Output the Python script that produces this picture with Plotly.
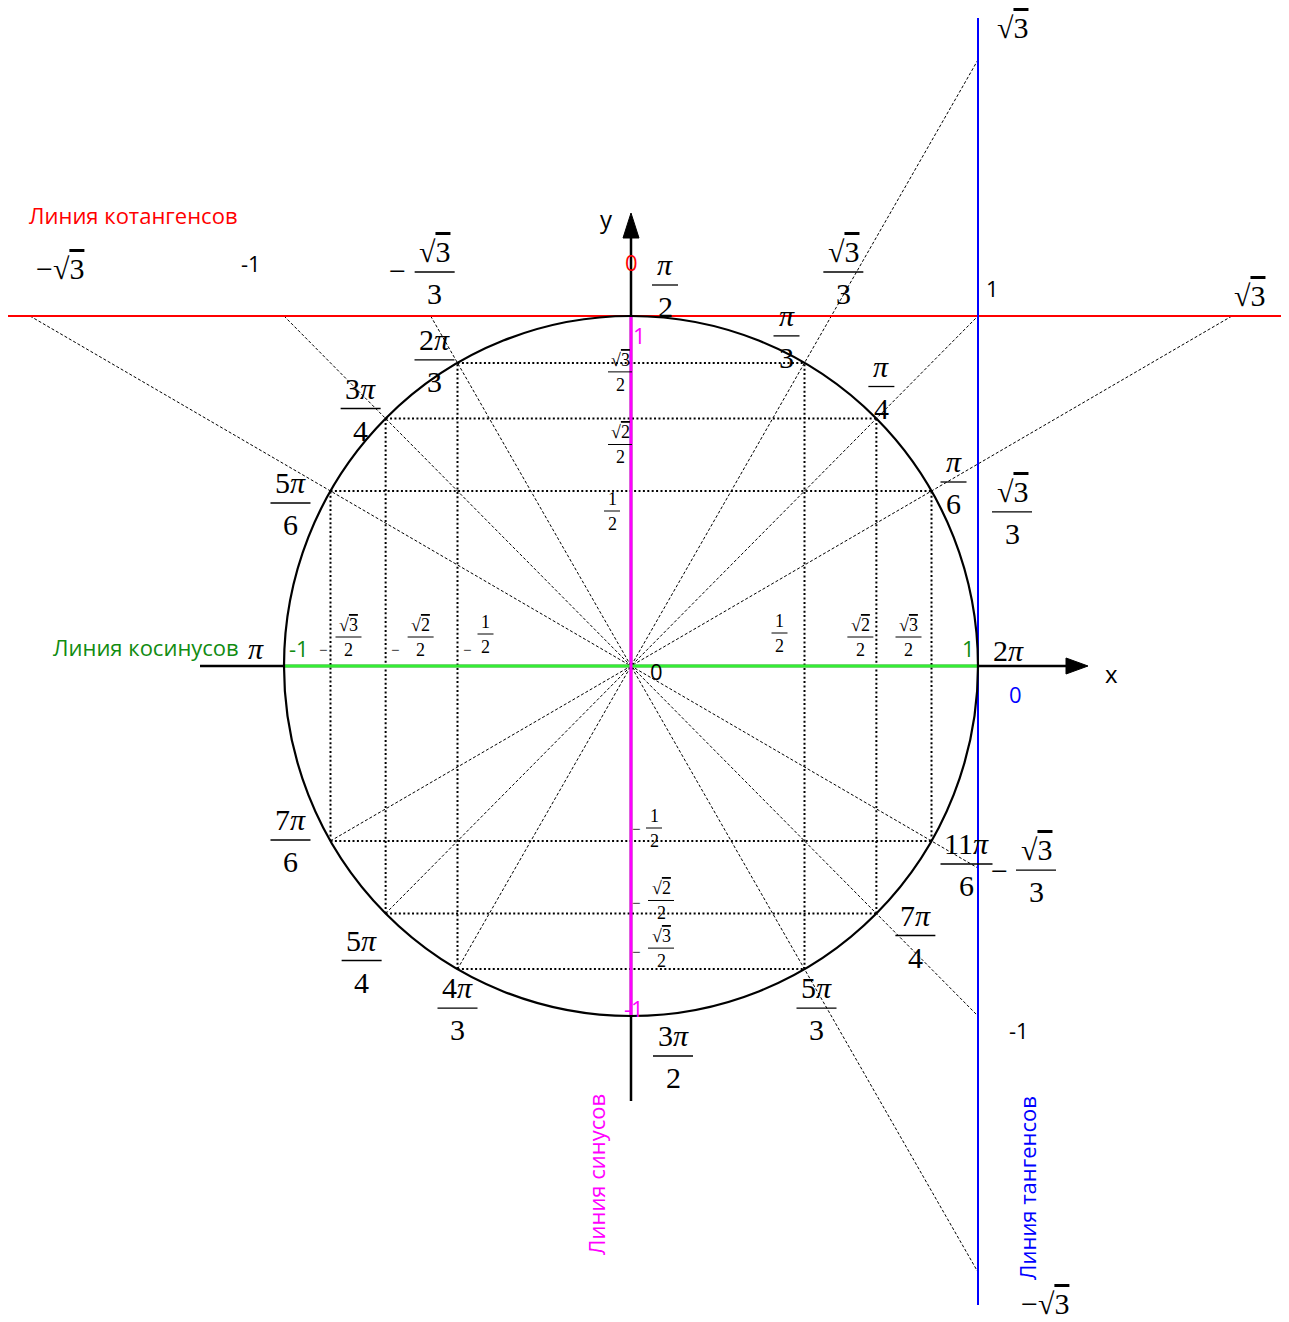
import numpy as np
import plotly.graph_objects as go

# ---------------- data ----------------
angles_deg = [30, 45, 60, 90, 120, 135, 150, 180, 210, 225, 240, 270, 300, 315, 330, 360]
angle_num = ["π", "π", "π", "π", "2π", "3π", "5π", "π", "7π", "5π", "4π", "3π", "5π", "7π", "11π", "2π"]
angle_den = ["6", "4", "3", "2", "3", "4", "6", "", "6", "4", "3", "2", "3", "4", "6", ""]
grid_vals = [0.5, np.sqrt(2) / 2, np.sqrt(3) / 2]          # sin/cos special values
tan_vals = [np.sqrt(3), 1.0, np.sqrt(3) / 3, 0.0, -np.sqrt(3) / 3, -1.0, -np.sqrt(3)]
cot_vals = [-np.sqrt(3), -1.0, -np.sqrt(3) / 3, 0.0, np.sqrt(3) / 3, 1.0, np.sqrt(3)]
diag_angles = [30, 45, 60, 120, 135, 150]

# ---------------- layout helpers ----------------
W, H = 1289, 1322
CXP, CYP = 631.0, 666.0      # pixel of origin
SX, SY = 347.0, 350.0        # pixels per unit
XR = [-CXP / SX, (W - CXP) / SX]
YR = [-(H - CYP) / SY, CYP / SY]

def pix(xp, yp):
    return (xp - CXP) / SX, (CYP - yp) / SY

SERIF = "Liberation Serif, Times New Roman, serif"
SANS = "Open Sans, Liberation Sans, sans-serif"
SQ3 = '√<span style="text-decoration:overline">3</span>'
SQ2 = '√<span style="text-decoration:overline">2</span>'
PI = "<i>π</i>"
BIG = 30
SMALL = 18
LBL = 22

ann = []
shapes = []

def txt(x, y, s, size, color="black", family=SERIF, dx=0, dy=0, angle=0):
    ann.append(dict(x=x, y=y, xref="x", yref="y", text=s, showarrow=False,
                    font=dict(size=size, color=color, family=family),
                    xanchor="center", yanchor="middle", xshift=dx, yshift=-dy,
                    textangle=angle))

def frac(x, y, num, den, size, dx=0, dy=0, w=30, color="black", lw=1.3):
    txt(x, y, num, size, color=color, dx=dx, dy=dy - 0.68 * size)
    txt(x, y, den, size, color=color, dx=dx, dy=dy + 0.72 * size)
    shapes.append(dict(type="line", xref="x", yref="y", xsizemode="pixel", ysizemode="pixel",
                       xanchor=x, yanchor=y, x0=dx - w / 2, x1=dx + w / 2, y0=-dy, y1=-dy,
                       line=dict(color=color, width=lw)))

fig = go.Figure()

def seg(x, y, color, width, dash="solid"):
    fig.add_trace(go.Scatter(x=x, y=y, mode="lines", hoverinfo="skip", showlegend=False,
                             line=dict(color=color, width=width, dash=dash)))

# ---------------- dotted grid ----------------
for v in grid_vals:
    c = np.sqrt(1 - v * v)
    for s in (1, -1):
        seg([-c, c], [s * v, s * v], "black", 2, "2px,2.4px")
        seg([s * v, s * v], [-c, c], "black", 2, "2px,2.4px")

# ---------------- diagonals through the centre ----------------
for a in diag_angles:
    r = np.radians(a)
    c, s = np.cos(r), np.sin(r)
    if a < 90:
        p0 = (-c, -s)
        p1 = (1.0, np.tan(r)) if a >= 45 else (1.0 / np.tan(r), 1.0)
    else:
        p0 = (1.0 / np.tan(r), 1.0)
        p1 = (1.0, np.tan(r))
    seg([p0[0], p1[0]], [p0[1], p1[1]], "black", 1, "3px,2px")

# ---------------- circle ----------------
shapes.append(dict(type="circle", xref="x", yref="y", x0=-1, x1=1, y0=-1, y1=1,
                   line=dict(color="black", width=2.2), layer="above"))

# ---------------- axes ----------------
ax0, ay0 = pix(200, 0)[0], pix(0, 1101)[1]
tipx, tipy = pix(1088, 0)[0], pix(0, 213)[1]
basex, basey = pix(1066, 0)[0], pix(0, 238)[1]
seg([ax0, basex], [0, 0], "black", 2.5)
seg([0, 0], [ay0, basey], "black", 2.5)
hw = 8 / SY
fig.add_trace(go.Scatter(x=[basex, tipx, basex, basex], y=[-hw, 0, hw, -hw], fill="toself",
                         fillcolor="black", mode="lines", line=dict(color="black", width=1),
                         hoverinfo="skip", showlegend=False))
hw = 8 / SX
fig.add_trace(go.Scatter(x=[-hw, 0, hw, -hw], y=[basey, tipy, basey, basey], fill="toself",
                         fillcolor="black", mode="lines", line=dict(color="black", width=1),
                         hoverinfo="skip", showlegend=False))

# ---------------- coloured lines ----------------
seg([-1, 1], [0, 0], "#33ee33", 3)                      # cosine line
seg([0, 0], [-1, 1], "#ff00ff", 3)                      # sine line
seg([pix(8, 0)[0], pix(1281, 0)[0]], [1, 1], "#ff0000", 2)   # cotangent line
seg([1, 1], [pix(0, 1305)[1], pix(0, 18)[1]], "#0000ff", 2)  # tangent line

# ---------------- angle labels ----------------
ang_off = {30: (22, -9), 45: (5, -32), 60: (-18, -27), 90: (34, -31), 120: (-23, -3),
           135: (-25, -10), 150: (-40, 12), 180: (-28, -18), 210: (-40, -1), 225: (-24, 47),
           240: (0, 39), 270: (42, 40), 300: (12, 39), 315: (39, 22), 330: (35, 23), 360: (30, -16)}
for a, n, d in zip(angles_deg, angle_num, angle_den):
    r = np.radians(a)
    x, y = np.cos(r), np.sin(r)
    dx, dy = ang_off[a]
    num = n.replace("π", PI)
    if d:
        w = 26 if len(n) == 1 else (52 if len(n) == 3 else 40)
        frac(x, y, num, d, BIG, dx=dx, dy=dy, w=w)
    else:
        txt(x, y, num, BIG, dx=dx, dy=dy)

# ---------------- cotangent labels ----------------
c = cot_vals
txt(c[0], 1, "−" + SQ3, BIG, dx=30, dy=-48)
txt(c[1], 1, "-1", LBL, family=SANS, dx=-33, dy=-53)
txt(c[2], 1, "−", BIG, dx=-33, dy=-46)
frac(c[2], 1, SQ3, "3", BIG, dx=4, dy=-44, w=40)
txt(c[3], 1, "0", LBL, color="#ff0000", family=SANS, dx=0, dy=-54)
frac(c[4], 1, SQ3, "3", BIG, dx=12, dy=-44, w=40)
txt(c[5], 1, "1", LBL, family=SANS, dx=14, dy=-28)
txt(c[6], 1, SQ3, BIG, dx=17, dy=-21)

# ---------------- tangent labels ----------------
t = tan_vals
txt(1, t[0], SQ3, BIG, dx=34, dy=-32)
frac(1, t[2], SQ3, "3", BIG, dx=34, dy=48, w=40)
txt(1, t[3], "0", LBL, color="#0000ff", family=SANS, dx=37, dy=28)
txt(1, t[4], "−", BIG, dx=21, dy=2)
frac(1, t[4], SQ3, "3", BIG, dx=58, dy=2, w=40)
txt(1, t[5], "-1", LBL, family=SANS, dx=41, dy=14)
txt(1, t[6], "−" + SQ3, BIG, dx=67, dy=31)

# ---------------- sine labels ----------------
g = grid_vals
txt(0, 1, "1", LBL, color="#ff00ff", family=SANS, dx=8, dy=19)
frac(0, g[2], SQ3, "2", SMALL, dx=-11, dy=9, w=24, lw=1)
frac(0, g[1], SQ2, "2", SMALL, dx=-11, dy=26, w=24, lw=1)
frac(0, g[0], "1", "2", SMALL, dx=-19, dy=20, w=16, lw=1)
txt(0, -g[0], "−", 15, dx=5, dy=-12)
frac(0, -g[0], "1", "2", SMALL, dx=23, dy=-13, w=16, lw=1)
txt(0, -g[1], "−", 15, dx=5, dy=-10)
frac(0, -g[1], SQ2, "2", SMALL, dx=30, dy=-13, w=26, lw=1)
txt(0, -g[2], "−", 15, dx=5, dy=-17)
frac(0, -g[2], SQ3, "2", SMALL, dx=30, dy=-21, w=26, lw=1)
txt(0, -1, "-1", LBL, color="#ff00ff", family=SANS, dx=3, dy=-8)

# ---------------- cosine labels ----------------
txt(-1, 0, "-1", LBL, color="#118c11", family=SANS, dx=15, dy=-18)
txt(-g[2], 0, "−", 15, dx=-7, dy=-16)
frac(-g[2], 0, SQ3, "2", SMALL, dx=18, dy=-29, w=26, lw=1)
txt(-g[1], 0, "−", 15, dx=9, dy=-16)
frac(-g[1], 0, SQ2, "2", SMALL, dx=35, dy=-29, w=26, lw=1)
txt(-g[0], 0, "−", 15, dx=9, dy=-16)
frac(-g[0], 0, "1", "2", SMALL, dx=28, dy=-32, w=16, lw=1)
frac(g[0], 0, "1", "2", SMALL, dx=-25, dy=-33, w=16, lw=1)
frac(g[1], 0, SQ2, "2", SMALL, dx=-16, dy=-29, w=26, lw=1)
frac(g[2], 0, SQ3, "2", SMALL, dx=-23, dy=-29, w=26, lw=1)
txt(1, 0, "1", LBL, color="#118c11", family=SANS, dx=-10, dy=-18)
txt(0, 0, "0", LBL, family=SANS, dx=25, dy=5)

# ---------------- axis names & line titles ----------------
x_, y_ = pix(1111, 673); txt(x_, y_, "x", 24, family=SANS)
x_, y_ = pix(606, 218); txt(x_, y_, "y", 24, family=SANS)
x_, y_ = pix(133, 215); txt(x_, y_, "Линия котангенсов", 22, color="#ff0000", family=SANS)
x_, y_ = pix(146, 647); txt(x_, y_, "Линия косинусов", 22, color="#118c11", family=SANS)
x_, y_ = pix(596, 1175); txt(x_, y_, "Линия синусов", 22, color="#ff00ff", family=SANS, angle=-90)
x_, y_ = pix(1027, 1188); txt(x_, y_, "Линия тангенсов", 22, color="#0000ff", family=SANS, angle=-90)

fig.update_layout(
    width=W, height=H, margin=dict(l=0, r=0, t=0, b=0),
    paper_bgcolor="white", plot_bgcolor="white", showlegend=False,
    xaxis=dict(range=XR, visible=False, fixedrange=True),
    yaxis=dict(range=YR, visible=False, fixedrange=True),
    annotations=ann, shapes=shapes,
)
fig.write_html("out.html", config={"displayModeBar": False},
               post_script="document.body.style.margin='0';document.body.style.overflow='hidden';")
